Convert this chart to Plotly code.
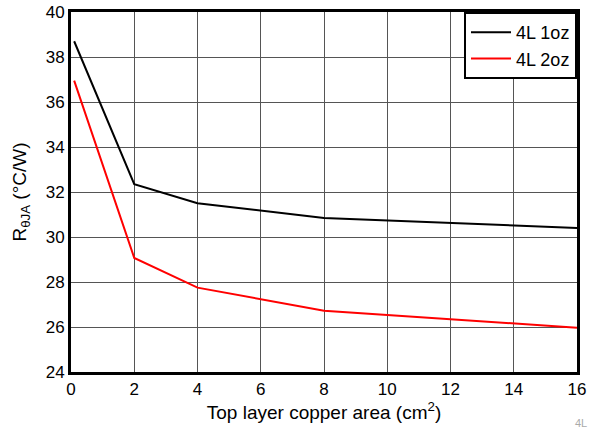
import plotly.graph_objects as go

x_area = [0.1, 2, 4, 8, 16]
r_4l_1oz = [38.7, 32.35, 31.5, 30.85, 30.4]
r_4l_2oz = [36.95, 29.07, 27.75, 26.72, 25.97]
series_names = ["4L 1oz", "4L 2oz"]
x_ticks = [0, 2, 4, 6, 8, 10, 12, 14, 16]
y_ticks = [24, 26, 28, 30, 32, 34, 36, 38, 40]

fig = go.Figure()
fig.add_trace(go.Scatter(x=x_area, y=r_4l_1oz, mode="lines", name=series_names[0],
                         line=dict(color="black", width=2)))
fig.add_trace(go.Scatter(x=x_area, y=r_4l_2oz, mode="lines", name=series_names[1],
                         line=dict(color="#ff0000", width=2)))

font = "Liberation Sans, Arial, sans-serif"
fig.update_layout(
    width=590, height=431,
    margin=dict(l=71, r=13, t=12, b=59),
    paper_bgcolor="white", plot_bgcolor="white",
    font=dict(family=font, size=17, color="black"),
    showlegend=True,
    legend=dict(x=1, y=1, xanchor="right", yanchor="top",
                bgcolor="white", bordercolor="black", borderwidth=2,
                font=dict(size=18, family=font),
                tracegroupgap=0, itemwidth=40),
    xaxis=dict(range=[0, 16], tickvals=x_ticks, ticks="", showgrid=True,
               gridcolor="#555555", gridwidth=1, showline=True, linecolor="black",
               linewidth=3, mirror=True, zeroline=False, automargin=False,
               title=dict(text="Top layer copper area (cm<sup>2</sup>)", standoff=2,
                          font=dict(size=19)),
               tickfont=dict(size=17)),
    yaxis=dict(range=[24, 40], tickvals=y_ticks, ticks="", showgrid=True,
               gridcolor="#555555", gridwidth=1, showline=True, linecolor="black",
               linewidth=3, mirror=True, zeroline=False, automargin=False,
               title=dict(text="R<sub>θJA</sub> (°C/W)", standoff=15,
                          font=dict(size=19)),
               tickfont=dict(size=17)),
)
fig.add_annotation(text="4L", xref="paper", yref="paper", x=1.023, y=-0.1417,
                   xanchor="right", yanchor="middle", showarrow=False,
                   font=dict(size=11, color="#aaaaaa", family=font))

fig.write_html("out.html", config={"displayModeBar": False},
               post_script="document.body.style.margin='0';")
